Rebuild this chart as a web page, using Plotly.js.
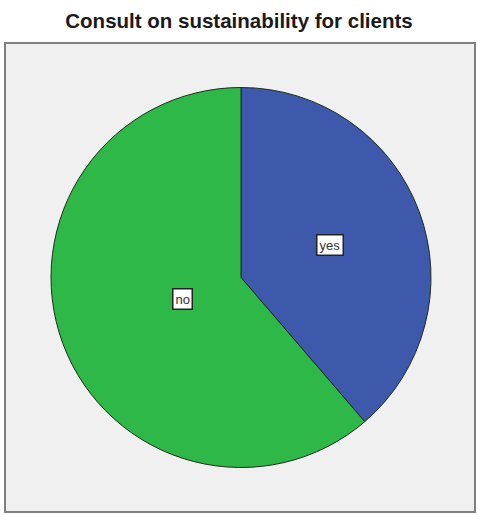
<!DOCTYPE html>
<html>
<head>
<meta charset="utf-8">
<script src="https://cdn.plot.ly/plotly-3.0.1.min.js"></script>
<style>html,body{margin:0;padding:0;background:#fff;}#chart{width:478px;height:515px;}</style>
</head>
<body>
<div id="chart"></div>
<script>
var categories = ["yes", "no"];
var counts = [12, 19];
var sliceColors = ["#3E58AC", "#2EB848"];
var labelRadius = [0.5, 0.33];

var W = 478, H = 515;
var cx = 241, cy = 277.5, R = 190;

var total = counts.reduce(function(a, b){ return a + b; }, 0);
var annotations = [];
var cum = 0;
for (var i = 0; i < counts.length; i++) {
  var mid = (cum + counts[i] / 2) / total * 2 * Math.PI;
  cum += counts[i];
  var px = cx + labelRadius[i] * R * Math.sin(mid);
  var py = cy - labelRadius[i] * R * Math.cos(mid);
  annotations.push({
    xref: "paper", yref: "paper",
    x: px / W, y: 1 - py / H,
    xanchor: "center", yanchor: "middle",
    text: categories[i], showarrow: false,
    bgcolor: "#ffffff", bordercolor: "#222222", borderwidth: 1.5, borderpad: 2,
    font: {family: "Liberation Sans, Arial, sans-serif", size: 13, color: "#333333"}
  });
}

var trace = {
  type: "pie",
  labels: categories,
  values: counts,
  sort: false,
  direction: "clockwise",
  rotation: 0,
  textinfo: "none",
  hoverinfo: "label+value+percent",
  marker: {colors: sliceColors, line: {color: "#1d2e1d", width: 1}},
  domain: {x: [(cx - R) / W, (cx + R) / W], y: [1 - (cy + R) / H, 1 - (cy - R) / H]},
  showlegend: false
};

var layout = {
  width: W, height: H,
  margin: {l: 0, r: 0, t: 0, b: 0},
  paper_bgcolor: "#ffffff",
  showlegend: false,
  title: {
    text: "<b>Consult on sustainability for clients</b>",
    x: 0.5, xanchor: "center", y: 1 - 21 / H, yanchor: "middle",
    font: {family: "Liberation Sans, Arial, sans-serif", size: 20.5, color: "#1a1a1a"}
  },
  shapes: [{
    type: "rect", xref: "paper", yref: "paper", layer: "below",
    x0: 5 / W, x1: 475 / W, y0: 1 - 512 / H, y1: 1 - 43 / H,
    fillcolor: "#f0f0f0", line: {color: "#808080", width: 2}
  }],
  annotations: annotations
};

Plotly.newPlot("chart", [trace], layout, {displayModeBar: false, staticPlot: true});
</script>
</body>
</html>
